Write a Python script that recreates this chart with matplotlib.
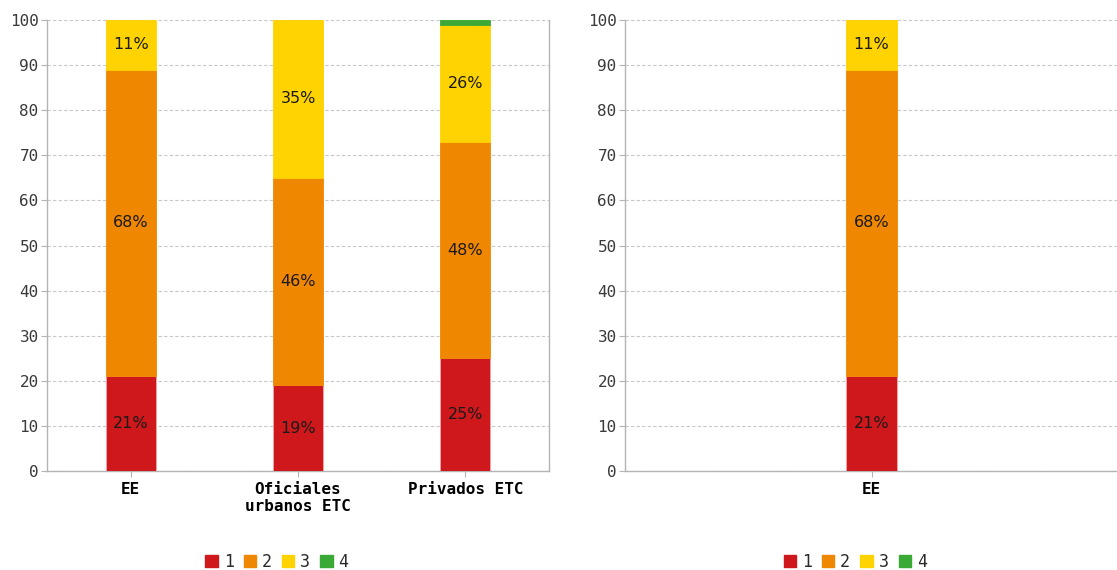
import numpy as np
import matplotlib.pyplot as plt
from matplotlib.patches import Patch

categories_left = ['EE', 'Oficiales\nurbanos ETC', 'Privados ETC']
categories_right = ['EE']
series_names = ['1', '2', '3', '4']
colors = ['#CF181C', '#F08700', '#FFD300', '#3AA935']

# percentage per level, one list per category
values_left = [
    [21, 68, 11, 0],
    [19, 46, 35, 0],
    [25, 48, 26, 1],
]
values_right = [
    [21, 68, 11, 0],
]

MONO = 'DejaVu Sans Mono'
GRID_COL = '#c8c8c8'
SPINE_COL = '#b4b4b4'


def draw_panel(ax, categories, values, width, legend_x, right_spine=True):
    values = np.array(values, dtype=float)
    x = np.arange(len(categories))
    bottom = np.zeros(len(categories))
    for j, name in enumerate(series_names):
        vals = values[:, j]
        keep = vals > 0
        ax.bar(x[keep], vals[keep], width, bottom=bottom[keep], color=colors[j],
               edgecolor='#f4a6a6' if j == 0 else colors[j], linewidth=0.6, zorder=3)
        for xi, v, b in zip(x, vals, bottom):
            if v >= 5:
                ax.text(xi, b + v / 2, '%d%%' % v, ha='center', va='center',
                        fontsize=11.5, color='#1a1a1a', zorder=4)
        bottom += vals
    ax.set_xlim(-0.5, len(categories) - 0.5)
    ax.set_ylim(0, 100)
    ax.set_yticks(np.arange(0, 101, 10))
    ax.set_xticks(x)
    ax.set_xticklabels(categories, fontfamily=MONO, fontweight='bold', fontsize=11.5,
                       linespacing=1.15)
    for lab in ax.get_yticklabels():
        lab.set_fontfamily(MONO)
        lab.set_fontsize(11.5)
        lab.set_color('#3a3a3a')
    ax.yaxis.grid(True, linestyle=(0, (3, 2)), color=GRID_COL, linewidth=0.8, zorder=0)
    ax.tick_params(axis='y', length=4, color=SPINE_COL, pad=2)
    ax.tick_params(axis='x', length=4, color=SPINE_COL, pad=4)
    ax.spines['top'].set_visible(False)
    ax.spines['right'].set_visible(right_spine)
    for s in ['left', 'bottom', 'right']:
        ax.spines[s].set_color(SPINE_COL)
        ax.spines[s].set_linewidth(1.0)
    handles = [Patch(facecolor=c, edgecolor=c) for c in colors]
    leg = ax.legend(handles, series_names, loc='center', bbox_to_anchor=(legend_x, -0.202),
                    ncol=4, frameon=False, handlelength=0.75, handleheight=0.75,
                    handletextpad=0.35, columnspacing=0.6,
                    prop={'family': MONO, 'size': 12})
    for t in leg.get_texts():
        t.set_color('#2a2a2a')


fig = plt.figure(figsize=(11.17, 5.70), dpi=100)
W, H = 1117, 570
ax1 = fig.add_axes([47 / W, 1 - 471 / H, (549 - 47) / W, (471 - 20) / H])
ax2 = fig.add_axes([625 / W, 1 - 471 / H, (1118 - 625) / W, (471 - 20) / H])

draw_panel(ax1, categories_left, values_left, 0.3, 0.458)
draw_panel(ax2, categories_right, values_right, 0.102, 0.467, right_spine=False)

fig.savefig('out.png', dpi=100)
